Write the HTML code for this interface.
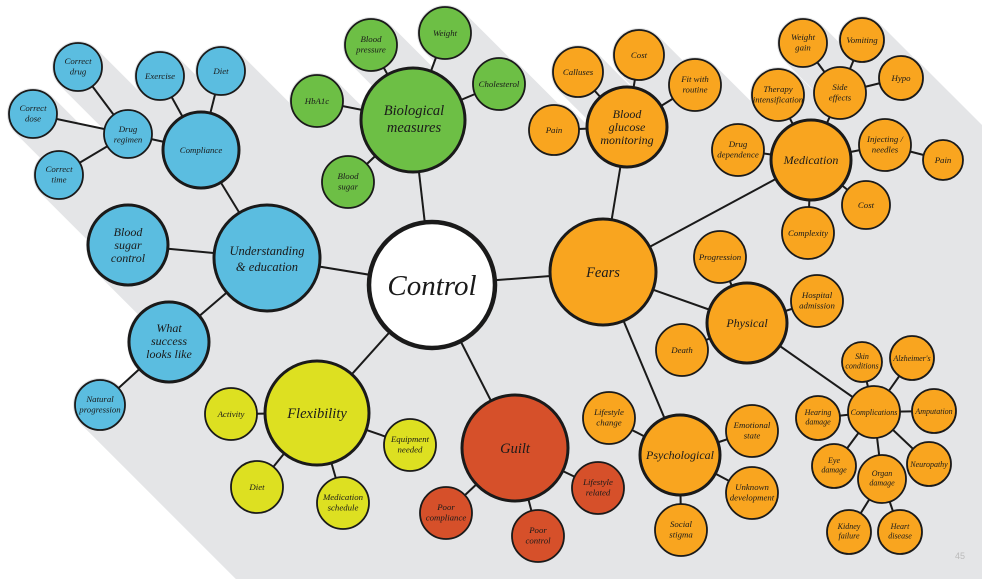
<!DOCTYPE html>
<html><head><meta charset="utf-8"><style>
html,body{margin:0;padding:0;background:#fff;width:982px;height:579px;overflow:hidden;}
svg{display:block;}
text{font-family:"Liberation Serif",serif;font-style:italic;fill:#1a1a1a;text-anchor:middle;}
.s{font-size:8.8px;}
.m{font-size:12px;}
.l{font-size:14.5px;}
line{stroke:#1a1a1a;stroke-width:2;}
circle{stroke:#1a1a1a;stroke-width:1.8;}
.b{fill:#5bbde0}.g{fill:#6dbf45}.y{fill:#dde021}.r{fill:#d6502a}.o{fill:#f9a51f}
.big{stroke-width:3}
</style></head><body>
<svg id="sv" width="982" height="579" viewBox="0 0 982 579" overflow="hidden">
<g id="shadow" fill="#e4e5e7" stroke="none"></g>
<g id="edges">
<line x1="432" y1="285" x2="267" y2="258"/><line x1="432" y1="285" x2="413" y2="120"/><line x1="432" y1="285" x2="317" y2="413"/><line x1="432" y1="285" x2="515" y2="448"/><line x1="432" y1="285" x2="603" y2="272"/>
<line x1="267" y1="258" x2="201" y2="150"/><line x1="267" y1="258" x2="128" y2="245"/><line x1="267" y1="258" x2="169" y2="342"/>
<line x1="201" y1="150" x2="128" y2="134"/><line x1="201" y1="150" x2="160" y2="76"/><line x1="201" y1="150" x2="221" y2="71"/>
<line x1="128" y1="134" x2="78" y2="67"/><line x1="128" y1="134" x2="33" y2="114"/><line x1="128" y1="134" x2="59" y2="175"/>
<line x1="169" y1="342" x2="100" y2="405"/>
<line x1="413" y1="120" x2="371" y2="45"/><line x1="413" y1="120" x2="445" y2="33"/><line x1="413" y1="120" x2="499" y2="84"/><line x1="413" y1="120" x2="317" y2="101"/><line x1="413" y1="120" x2="348" y2="182"/>
<line x1="317" y1="413" x2="231" y2="414"/><line x1="317" y1="413" x2="257" y2="487"/><line x1="317" y1="413" x2="343" y2="503"/><line x1="317" y1="413" x2="410" y2="445"/>
<line x1="515" y1="448" x2="598" y2="488"/><line x1="515" y1="448" x2="538" y2="536"/><line x1="515" y1="448" x2="446" y2="513"/>
<line x1="603" y1="272" x2="627" y2="127"/><line x1="603" y1="272" x2="811" y2="160"/><line x1="603" y1="272" x2="747" y2="323"/><line x1="603" y1="272" x2="680" y2="455"/>
<line x1="627" y1="127" x2="578" y2="72"/><line x1="627" y1="127" x2="639" y2="55"/><line x1="627" y1="127" x2="695" y2="85"/><line x1="627" y1="127" x2="554" y2="130"/>
<line x1="811" y1="160" x2="738" y2="150"/><line x1="811" y1="160" x2="778" y2="95"/><line x1="811" y1="160" x2="840" y2="93"/><line x1="811" y1="160" x2="885" y2="145"/><line x1="811" y1="160" x2="866" y2="205"/><line x1="811" y1="160" x2="808" y2="233"/>
<line x1="840" y1="93" x2="803" y2="43"/><line x1="840" y1="93" x2="862" y2="40"/><line x1="840" y1="93" x2="901" y2="78"/>
<line x1="885" y1="145" x2="943" y2="160"/>
<line x1="747" y1="323" x2="720" y2="257"/><line x1="747" y1="323" x2="817" y2="301"/><line x1="747" y1="323" x2="682" y2="350"/><line x1="747" y1="323" x2="874" y2="412"/>
<line x1="680" y1="455" x2="609" y2="418"/><line x1="680" y1="455" x2="752" y2="431"/><line x1="680" y1="455" x2="752" y2="493"/><line x1="680" y1="455" x2="681" y2="530"/>
<line x1="874" y1="412" x2="862" y2="362"/><line x1="874" y1="412" x2="912" y2="358"/><line x1="874" y1="412" x2="934" y2="411"/><line x1="874" y1="412" x2="929" y2="464"/><line x1="874" y1="412" x2="882" y2="479"/><line x1="874" y1="412" x2="818" y2="418"/><line x1="874" y1="412" x2="834" y2="466"/>
<line x1="882" y1="479" x2="849" y2="532"/><line x1="882" y1="479" x2="900" y2="532"/>
</g>
<g id="nodes">
<circle cx="432" cy="285" r="63" fill="#fff" class="big" style="stroke-width:4.5"/>
<circle class="b big" cx="267" cy="258" r="53"/><circle class="b big" cx="201" cy="150" r="38"/><circle class="b" cx="128" cy="134" r="24"/><circle class="b" cx="160" cy="76" r="24"/><circle class="b" cx="221" cy="71" r="24"/><circle class="b" cx="78" cy="67" r="24"/><circle class="b" cx="33" cy="114" r="24"/><circle class="b" cx="59" cy="175" r="24"/><circle class="b big" cx="128" cy="245" r="40"/><circle class="b big" cx="169" cy="342" r="40"/><circle class="b" cx="100" cy="405" r="25"/>
<circle class="g big" cx="413" cy="120" r="52"/><circle class="g" cx="371" cy="45" r="26"/><circle class="g" cx="445" cy="33" r="26"/><circle class="g" cx="499" cy="84" r="26"/><circle class="g" cx="317" cy="101" r="26"/><circle class="g" cx="348" cy="182" r="26"/>
<circle class="y big" cx="317" cy="413" r="52"/><circle class="y" cx="231" cy="414" r="26"/><circle class="y" cx="257" cy="487" r="26"/><circle class="y" cx="343" cy="503" r="26"/><circle class="y" cx="410" cy="445" r="26"/>
<circle class="r big" cx="515" cy="448" r="53"/><circle class="r" cx="598" cy="488" r="26"/><circle class="r" cx="538" cy="536" r="26"/><circle class="r" cx="446" cy="513" r="26"/>
<circle class="o big" cx="603" cy="272" r="53"/><circle class="o big" cx="627" cy="127" r="40"/><circle class="o" cx="578" cy="72" r="25"/><circle class="o" cx="639" cy="55" r="25"/><circle class="o" cx="695" cy="85" r="26"/><circle class="o" cx="554" cy="130" r="25"/>
<circle class="o big" cx="811" cy="160" r="40"/><circle class="o" cx="738" cy="150" r="26"/><circle class="o" cx="778" cy="95" r="26"/><circle class="o" cx="840" cy="93" r="26"/><circle class="o" cx="803" cy="43" r="24"/><circle class="o" cx="862" cy="40" r="22"/><circle class="o" cx="901" cy="78" r="22"/><circle class="o" cx="885" cy="145" r="26"/><circle class="o" cx="943" cy="160" r="20"/><circle class="o" cx="866" cy="205" r="24"/><circle class="o" cx="808" cy="233" r="26"/>
<circle class="o big" cx="747" cy="323" r="40"/><circle class="o" cx="720" cy="257" r="26"/><circle class="o" cx="817" cy="301" r="26"/><circle class="o" cx="682" cy="350" r="26"/>
<circle class="o big" cx="680" cy="455" r="40"/><circle class="o" cx="609" cy="418" r="26"/><circle class="o" cx="752" cy="431" r="26"/><circle class="o" cx="752" cy="493" r="26"/><circle class="o" cx="681" cy="530" r="26"/>
<circle class="o" cx="874" cy="412" r="26"/><circle class="o" cx="862" cy="362" r="20"/><circle class="o" cx="912" cy="358" r="22"/><circle class="o" cx="934" cy="411" r="22"/><circle class="o" cx="929" cy="464" r="22"/><circle class="o" cx="882" cy="479" r="24"/><circle class="o" cx="818" cy="418" r="22"/><circle class="o" cx="834" cy="466" r="22"/><circle class="o" cx="849" cy="532" r="22"/><circle class="o" cx="900" cy="532" r="22"/>
</g>
<g id="labels">
<text x="432" y="295" style="font-size:29px">Control</text>
<text x="267" y="255" style="font-size:12.5px">Understanding<tspan x="267" dy="16">&amp; education</tspan></text>
<text class="s" x="201" y="153">Compliance</text>
<text class="s" x="128" y="132">Drug<tspan x="128" dy="10.5">regimen</tspan></text>
<text class="s" x="160" y="79">Exercise</text>
<text class="s" x="221" y="74">Diet</text>
<text class="s" x="78" y="64">Correct<tspan x="78" dy="10.5">drug</tspan></text>
<text class="s" x="33" y="111">Correct<tspan x="33" dy="10.5">dose</tspan></text>
<text class="s" x="59" y="172">Correct<tspan x="59" dy="10.5">time</tspan></text>
<text class="m" x="128" y="236">Blood<tspan x="128" dy="13">sugar</tspan><tspan x="128" dy="13">control</tspan></text>
<text class="m" x="169" y="332">What<tspan x="169" dy="13">success</tspan><tspan x="169" dy="13">looks like</tspan></text>
<text class="s" x="100" y="402">Natural<tspan x="100" dy="10.5">progression</tspan></text>
<text class="l" x="414" y="115">Biological<tspan x="414" dy="17">measures</tspan></text>
<text class="s" x="371" y="42">Blood<tspan x="371" dy="10.5">pressure</tspan></text>
<text class="s" x="445" y="36">Weight</text>
<text class="s" x="499" y="87">Cholesterol</text>
<text class="s" x="317" y="104">HbA1c</text>
<text class="s" x="348" y="179">Blood<tspan x="348" dy="10.5">sugar</tspan></text>
<text class="l" x="317" y="418">Flexibility</text>
<text class="s" x="231" y="417">Activity</text>
<text class="s" x="257" y="490">Diet</text>
<text class="s" x="343" y="500">Medication<tspan x="343" dy="10.5">schedule</tspan></text>
<text class="s" x="410" y="442">Equipment<tspan x="410" dy="10.5">needed</tspan></text>
<text class="l" x="515" y="453">Guilt</text>
<text class="s" x="598" y="485">Lifestyle<tspan x="598" dy="10.5">related</tspan></text>
<text class="s" x="538" y="533">Poor<tspan x="538" dy="10.5">control</tspan></text>
<text class="s" x="446" y="510">Poor<tspan x="446" dy="10.5">compliance</tspan></text>
<text class="l" x="603" y="277">Fears</text>
<text class="m" x="627" y="118">Blood<tspan x="627" dy="13">glucose</tspan><tspan x="627" dy="13">monitoring</tspan></text>
<text class="s" x="578" y="75">Calluses</text>
<text class="s" x="639" y="58">Cost</text>
<text class="s" x="695" y="82">Fit with<tspan x="695" dy="10.5">routine</tspan></text>
<text class="s" x="554" y="133">Pain</text>
<text class="m" x="811" y="164">Medication</text>
<text class="s" x="738" y="147">Drug<tspan x="738" dy="10.5">dependence</tspan></text>
<text class="s" x="778" y="92">Therapy<tspan x="778" dy="10.5">intensification</tspan></text>
<text class="s" x="840" y="90">Side<tspan x="840" dy="10.5">effects</tspan></text>
<text class="s" x="803" y="40">Weight<tspan x="803" dy="10.5">gain</tspan></text>
<text class="s" x="862" y="43">Vomiting</text>
<text class="s" x="901" y="81">Hypo</text>
<text class="s" x="885" y="142">Injecting /<tspan x="885" dy="10.5">needles</tspan></text>
<text class="s" x="943" y="163">Pain</text>
<text class="s" x="866" y="208">Cost</text>
<text class="s" x="808" y="236">Complexity</text>
<text class="m" x="747" y="327">Physical</text>
<text class="s" x="720" y="260">Progression</text>
<text class="s" x="817" y="298">Hospital<tspan x="817" dy="10.5">admission</tspan></text>
<text class="s" x="682" y="353">Death</text>
<text class="m" x="680" y="459">Psychological</text>
<text class="s" x="609" y="415">Lifestyle<tspan x="609" dy="10.5">change</tspan></text>
<text class="s" x="752" y="428">Emotional<tspan x="752" dy="10.5">state</tspan></text>
<text class="s" x="752" y="490">Unknown<tspan x="752" dy="10.5">development</tspan></text>
<text class="s" x="681" y="527">Social<tspan x="681" dy="10.5">stigma</tspan></text>
<text class="s" x="874" y="415" style="font-size:8px">Complications</text>
<text class="s" x="862" y="359" style="font-size:8px">Skin<tspan x="862" dy="9.5">conditions</tspan></text>
<text class="s" x="912" y="361" style="font-size:8px">Alzheimer's</text>
<text class="s" x="934" y="414" style="font-size:8px">Amputation</text>
<text class="s" x="929" y="467" style="font-size:8px">Neuropathy</text>
<text class="s" x="882" y="476" style="font-size:8px">Organ<tspan x="882" dy="9.5">damage</tspan></text>
<text class="s" x="818" y="415" style="font-size:8px">Hearing<tspan x="818" dy="9.5">damage</tspan></text>
<text class="s" x="834" y="463" style="font-size:8px">Eye<tspan x="834" dy="9.5">damage</tspan></text>
<text class="s" x="849" y="529" style="font-size:8px">Kidney<tspan x="849" dy="9.5">failure</tspan></text>
<text class="s" x="900" y="529" style="font-size:8px">Heart<tspan x="900" dy="9.5">disease</tspan></text>
<text x="960" y="559" style="font-size:9px;font-style:normal;fill:#bbb;font-family:'Liberation Sans',sans-serif">45</text>
</g>
</svg>
<script>
(function(){
var ns="http://www.w3.org/2000/svg",g=document.getElementById("shadow"),W=982,H=579;
function proj(x,y){var t=Math.min(W-x,H-y);return [x+t,y+t];}
function strip(p1,p2){
var e1=proj(p1[0],p1[1]),e2=proj(p2[0],p2[1]);
var pts=[p1,p2,e2];
var onR1=Math.abs(e1[0]-W)<0.01,onR2=Math.abs(e2[0]-W)<0.01;
if(onR1!==onR2)pts.push([W,H]);
pts.push(e1);
var p=document.createElementNS(ns,"polygon");
p.setAttribute("points",pts.map(function(q){return q[0].toFixed(2)+","+q[1].toFixed(2);}).join(" "));
g.appendChild(p);}
document.querySelectorAll("#nodes circle").forEach(function(c){
var x=+c.getAttribute("cx"),y=+c.getAttribute("cy"),r=+c.getAttribute("r")+2,k=r/Math.SQRT2;
strip([x-k,y+k],[x+k,y-k]);
var cc=document.createElementNS(ns,"circle");
cc.setAttribute("cx",x);cc.setAttribute("cy",y);cc.setAttribute("r",r);cc.setAttribute("style","fill:#e4e5e7;stroke:none");
g.appendChild(cc);});
document.querySelectorAll("#edges line").forEach(function(e){
strip([+e.getAttribute("x1"),+e.getAttribute("y1")],[+e.getAttribute("x2"),+e.getAttribute("y2")]);});
})();
</script>
</body></html>
